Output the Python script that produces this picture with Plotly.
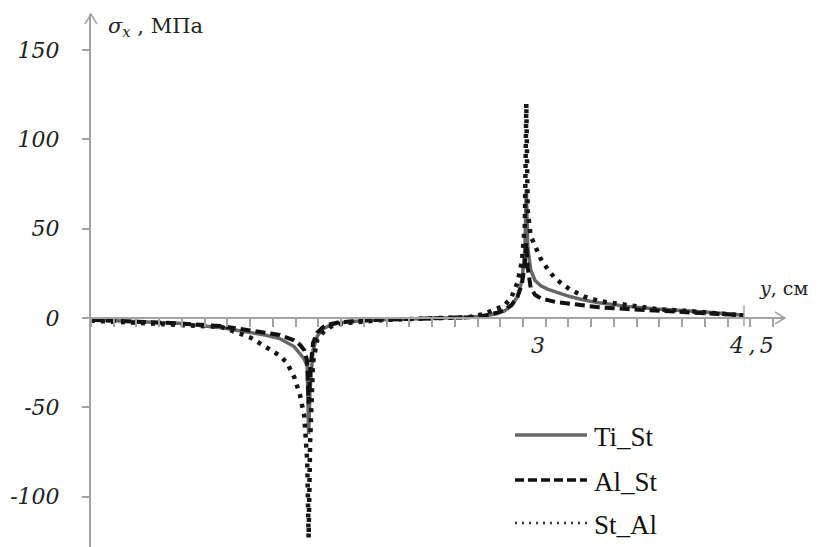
import plotly.graph_objects as go

# y coordinate, cm
y_cm = [0, 0.3, 0.6, 0.9, 1.1, 1.2, 1.3, 1.35, 1.4, 1.44, 1.47, 1.49, 1.5, 1.51, 1.53, 1.56,
        1.6, 1.65, 1.7, 1.8, 1.9, 2.0, 2.2, 2.4, 2.6, 2.7, 2.8, 2.85, 2.9, 2.94, 2.97, 2.99,
        3.0, 3.01, 3.03, 3.06, 3.1, 3.15, 3.2, 3.3, 3.4, 3.5, 3.7, 3.9, 4.1, 4.3, 4.5]

ti_st = [-1, -1.8, -3, -5.5, -8, -9.5, -11.5, -13.5, -16, -20, -23, -27, -65, -40, -18, -10,
         -6, -4, -3, -2, -1.4, -1, -0.5, -0.2, 0.4, 1, 2.5, 4, 7, 12, 21, 38,
         72, 40, 27, 21, 18, 16, 14.5, 12, 10, 8.5, 6.5, 5, 4, 3, 1.5]

al_st = [-1, -1.8, -3, -4.5, -6.8, -8, -9.5, -11, -12.5, -15, -18, -24, -48, -30, -14, -8,
         -5, -3.5, -2.5, -1.8, -1.2, -0.9, -0.5, -0.2, 0.4, 1.2, 3, 4.5, 7.5, 12, 19, 30,
         42, 28, 17, 13, 11, 10, 9, 8, 7, 6, 5, 4, 3.2, 2.5, 1.5]

st_al = [-1.5, -2.5, -3.5, -5, -11, -16, -21, -25, -33, -43, -55, -80, -123, -70, -25, -12,
         -8, -5, -3.5, -2.5, -1.8, -1.2, -0.6, -0.2, 0.5, 2, 5, 7, 12, 20, 32, 52,
         120, 60, 46, 41, 33, 27, 22, 16, 12, 9.5, 7, 5, 4, 3, 1.5]

series_names = ["Ti_St", "Al_St", "St_Al"]
y_ticks = [-100, -50, 0, 50, 100, 150]
x_labels = ["3", "4\u2009,\u20095"]
x_label_pos = [3.08, 4.555]

SERIF_W = "DejaVu Serif, Liberation Serif, serif"
SERIF_T = "Liberation Serif, Times New Roman, serif"

W, H = 818, 547
ML, MR, MT, MB = 91, 33, 14, 0
PW, PH = W - ML - MR, H - MT - MB
px_per_cm = 145.1
px_per_unit = 1.787
x_max = PW / px_per_cm
y_top = (318 - MT) / px_per_unit
y_bot = -(H - 318) / px_per_unit
zero_frac = (H - 318) / PH

axis_col = "#a3a3a3"
fig = go.Figure()
styles = [
    dict(color="#676767", width=3.5, dash="solid"),
    dict(color="#111111", width=4, dash="10px,5px"),
    dict(color="#161616", width=4.5, dash="4px,6px"),
]
for name, vals, st in zip(series_names, [ti_st, al_st, st_al], styles):
    fig.add_trace(go.Scatter(x=y_cm, y=vals, mode="lines", name=name, line=st,
                             showlegend=False))

fig.update_layout(
    width=W, height=H,
    margin=dict(l=ML, r=MR, t=MT, b=MB),
    paper_bgcolor="white", plot_bgcolor="white",
    showlegend=False,
    xaxis=dict(range=[0, x_max], anchor="free", position=zero_frac,
               showline=True, linecolor=axis_col, linewidth=2,
               ticks="outside", ticklen=8, tickwidth=1.5, tickcolor=axis_col,
               tick0=0, dtick=0.1567, showticklabels=False,
               showgrid=False, zeroline=False),
    yaxis=dict(range=[y_bot, y_top], showline=True, linecolor=axis_col, linewidth=2,
               ticks="outside", ticklen=7, tickwidth=1.5, tickcolor=axis_col,
               tickvals=y_ticks, ticktext=[str(v) for v in y_ticks],
               tickfont=dict(family=SERIF_W, size=22, color="#222", style="italic"),
               ticklabelstandoff=18,
               showgrid=False, zeroline=False),
)

shapes = []
# axis arrowheads
dx, dy = 6 / PW, 10 / PH
shapes.append(dict(type="path", xref="paper", yref="paper",
                   path=f"M {-dx},{1-dy} L 0,1 L {dx},{1-dy}",
                   line=dict(color=axis_col, width=1.5)))
ax_, ay_ = 10 / PW, 6 / PH
shapes.append(dict(type="path", xref="paper", yref="paper",
                   path=f"M {1-ax_},{zero_frac+ay_} L 1,{zero_frac} L {1-ax_},{zero_frac-ay_}",
                   line=dict(color=axis_col, width=1.5)))
# tall tick at 4.5
shapes.append(dict(type="line", xref="x", yref="y", x0=4.5, x1=4.5, y0=-4.5, y1=7,
                   line=dict(color=axis_col, width=1.5)))

# legend (manual)
leg_rows_px = [435, 480, 523]
leg_styles = [
    dict(color="#676767", width=3.5, dash="solid"),
    dict(color="#111111", width=3.5, dash="9px,4px"),
    dict(color="#333333", width=2.5, dash="2px,5px"),
]
for ypx, st in zip(leg_rows_px, leg_styles):
    yp = (H - ypx) / PH
    shapes.append(dict(type="line", xref="paper", yref="paper",
                       x0=(515 - ML) / PW, x1=(587 - ML) / PW, y0=yp, y1=yp, line=st))

annotations = []
for ypx, name in zip(leg_rows_px, series_names):
    annotations.append(dict(xref="paper", yref="paper", x=(592 - ML) / PW,
                            y=(H - ypx - 2) / PH, text=name, showarrow=False,
                            xanchor="left", yanchor="middle",
                            font=dict(family=SERIF_T, size=27, color="#111")))
for lab, pos in zip(x_labels, x_label_pos):
    annotations.append(dict(x=pos, y=-15.5, xref="x", yref="y", text=lab, showarrow=False,
                            font=dict(family=SERIF_W, size=22, color="#222",
                                      style="italic")))
annotations.append(dict(x=(783 - ML) / px_per_cm, y=(318 - 288) / px_per_unit,
                        xref="x", yref="y", text="<i>y</i>, см", showarrow=False,
                        font=dict(family=SERIF_W, size=19, color="#222")))
annotations.append(dict(xref="paper", yref="paper", x=(106 - ML) / PW, y=(H - 27) / PH,
                        xanchor="left", yanchor="middle",
                        text="<i>σ</i><sub><i>x</i></sub> , МПа", showarrow=False,
                        font=dict(family=SERIF_W, size=21, color="#222")))

fig.update_layout(shapes=shapes, annotations=annotations)
fig.write_html("out.html")
